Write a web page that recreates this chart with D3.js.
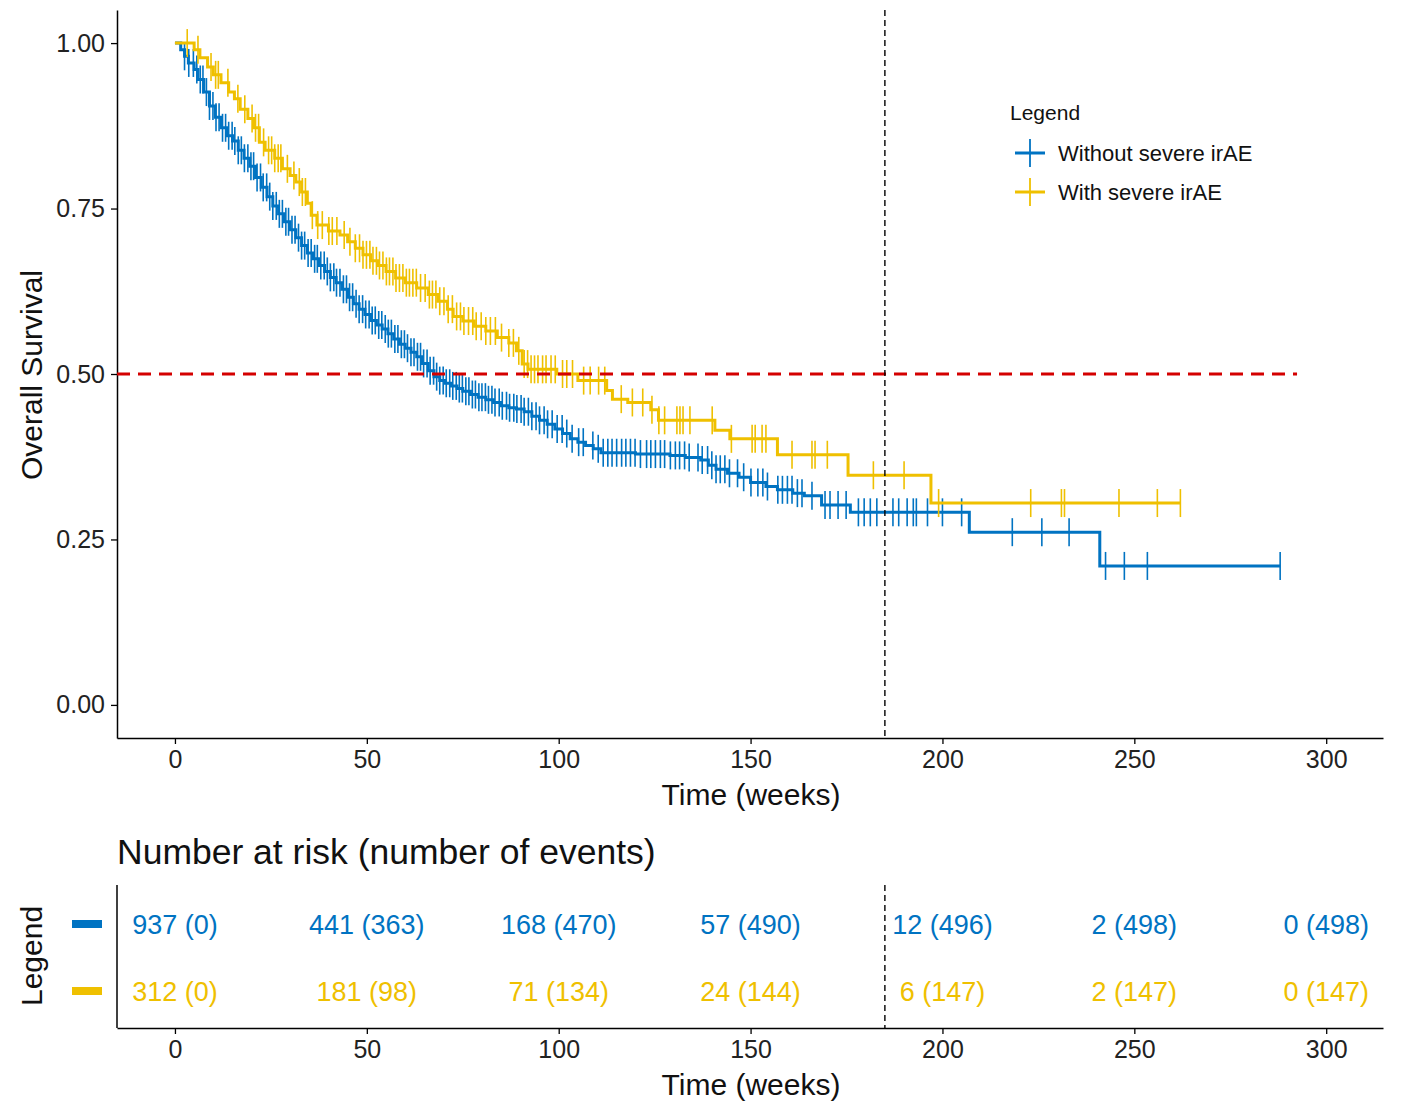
<!DOCTYPE html>
<html>
<head>
<meta charset="utf-8">
<script src="https://cdn.jsdelivr.net/npm/d3@7"></script>
<style>
  body { margin: 0; background: #fff; }
  text { font-family: "Liberation Sans", Arial, sans-serif; }
</style>
</head>
<body>
<script>
var groups = ['Without severe irAE', 'With severe irAE'];
var colors = ['#0073C2', '#EFC000'];

// step times (weeks) and survival after each step
var blueTime = [0,1.5,2.5,3.5,5,6,7.5,9,10.5,12,13.5,15,16.5,18,19.5,21,22.5,24,25.5,27,28.5,30,31.5,33,34.5,36,37.5,39,40.5,42,43.5,45,46.5,48,49.5,51,52.5,54,55.5,57,58.5,60,61.5,63,64.5,66,67.5,69,70.5,72,73.5,75,77,79,81,83,85,87,89,91,93,95,97,99,101,103,105,107,109,111,120,129,133,137,139,141,144,147,150,154,157,161,164,168.5,176,207,241];
var blueSurv = [1,0.99,0.98,0.97,0.96,0.945,0.926,0.905,0.888,0.872,0.86,0.852,0.838,0.826,0.814,0.797,0.782,0.768,0.754,0.742,0.73,0.718,0.706,0.694,0.683,0.674,0.664,0.655,0.646,0.638,0.628,0.616,0.606,0.598,0.59,0.581,0.574,0.568,0.561,0.553,0.545,0.539,0.533,0.526,0.516,0.505,0.496,0.49,0.486,0.482,0.478,0.474,0.469,0.465,0.461,0.457,0.452,0.449,0.447,0.443,0.436,0.43,0.424,0.417,0.41,0.402,0.397,0.392,0.387,0.381,0.379,0.377,0.374,0.37,0.362,0.356,0.35,0.344,0.336,0.33,0.325,0.32,0.316,0.302,0.291,0.261,0.21];
var blueEnd = 288;
var blueCensor = [2.5,3.6,4.8,5.7,6.6,7.3,8.2,9.0,9.9,10.7,11.5,12.4,13.2,14.0,14.9,15.6,16.5,17.3,18.1,19.0,19.8,20.5,21.4,22.3,23.0,23.9,24.7,25.5,26.4,27.2,28.0,28.9,29.6,30.5,31.3,32.2,33.0,33.8,34.7,35.5,36.4,37.1,38.0,38.9,39.7,40.5,41.4,42.1,43.0,43.9,44.7,45.5,46.3,47.2,48.0,48.9,49.7,50.6,51.4,52.2,53.1,53.9,54.8,55.6,56.4,57.3,58.1,59.0,59.8,60.6,61.5,62.3,63.2,64.0,64.8,65.7,66.5,67.4,68.2,69.0,69.9,70.7,71.6,72.4,73.3,74.1,74.9,75.8,76.6,77.5,78.3,79.2,80.0,80.9,81.7,82.6,83.4,84.5,85.3,86.4,87.2,88.3,89.1,90.2,91.0,92.1,93.0,94.1,95.0,96.2,97.1,98.3,99.6,100.9,102.1,103.5,105.2,106.4,108.9,110.3,111.6,112.8,113.9,115.1,116.4,117.5,118.7,119.9,121.3,122.9,124.0,125.2,126.5,127.6,129.1,130.4,131.5,132.8,134.0,136.3,137.4,138.8,139.9,141.0,142.1,143.3,144.5,146.6,148.2,150.1,151.9,153.2,154.4,157.1,158.3,159.6,160.8,162.2,163.4,166.0,169.4,170.7,172.8,174.9,178.1,179.6,181.2,182.9,187.1,188.6,190.8,192.4,193.2,196.1,200.0,205.0,218.2,225.9,233.0,242.5,247.4,253.4,288.0];

var yellowTime = [0,5,6.5,8.5,10,12,14,15.5,17,19,20.5,22,23.5,26,28,30,31.5,33,34.5,35.5,37,40,43,45,47,49,51,53,55,57.5,60,63,66,68.5,71,72.5,75,78,81,84,87,89,90.5,92,99.5,105,112.5,114,118,124,126,140.7,144.6,157,175.4,197];
var yellowSurv = [1,0.99,0.978,0.964,0.952,0.94,0.926,0.916,0.9,0.886,0.872,0.85,0.838,0.826,0.81,0.8,0.79,0.775,0.758,0.74,0.725,0.716,0.71,0.7,0.69,0.68,0.671,0.664,0.655,0.645,0.638,0.63,0.62,0.61,0.598,0.587,0.58,0.572,0.565,0.555,0.547,0.535,0.515,0.507,0.5,0.49,0.475,0.462,0.457,0.446,0.43,0.415,0.402,0.378,0.347,0.305];
var yellowEnd = 262;
var yellowCensor = [3.2,6.0,9.4,10.6,11.3,13.8,16.4,18.2,20.1,21.0,21.8,23.1,24.4,25.2,26.0,26.9,27.6,29.3,31.0,32.4,33.2,34.0,35.8,37.2,38.4,40.1,41.0,42.2,44.1,45.6,47.0,48.1,49.0,49.9,50.8,51.6,52.5,53.3,54.2,55.1,55.9,56.8,57.6,58.5,59.4,60.3,61.1,62.0,62.9,64.0,65.2,66.3,67.1,68.0,69.0,70.1,71.2,72.3,73.4,74.4,75.3,76.5,77.6,78.5,79.8,81.0,82.2,83.5,85.1,87.0,88.2,89.6,91.0,91.9,92.8,93.7,94.6,95.8,96.7,98.0,99.1,101.0,102.1,103.6,106.5,108.2,110.4,112.0,116.3,119.2,121.9,124.3,126.1,127.6,130.8,131.6,132.4,134.2,140.0,145.0,150.4,151.2,153.0,154.0,160.8,166.0,166.8,170.0,182.0,190.0,199.0,223.0,231.0,231.8,246.0,256.0,262.0];

var xTicks = [0, 50, 100, 150, 200, 250, 300];
var yTicks = [0, 0.25, 0.5, 0.75, 1];
var riskTimes = [0, 50, 100, 150, 200, 250, 300];
var riskBlue = [937, 441, 168, 57, 12, 2, 0];
var eventsBlue = [0, 363, 470, 490, 496, 498, 498];
var riskYellow = [312, 181, 71, 24, 6, 2, 0];
var eventsYellow = [0, 98, 134, 144, 147, 147, 147];
var medianSurv = 0.5;
var cutoffWeek = 185;

var W = 1405, H = 1103;
var svg = d3.select('body').append('svg')
  .attr('width', W)
  .attr('height', H);

var x = d3.scaleLinear().domain([-15.1, 314.8]).range([117, 1383]);
var y = d3.scaleLinear().domain([-0.05, 1.05]).range([738, 10]);

var series = [
  {name: groups[0], color: colors[0], time: blueTime, surv: blueSurv, end: blueEnd, censor: blueCensor},
  {name: groups[1], color: colors[1], time: yellowTime, surv: yellowSurv, end: yellowEnd, censor: yellowCensor}
];

function survAt(s, t) {
  var v = s.surv[0];
  for (var i = 0; i < s.time.length; i++) {
    if (s.time[i] <= t) v = s.surv[i];
  }
  return v;
}

/* ===== main panel axes ===== */

var yAxis = d3.axisLeft(y).tickValues(yTicks).tickFormat(d3.format('.2f'))
  .tickSize(6).tickSizeOuter(0).tickPadding(6);
var xAxis = d3.axisBottom(x).tickValues(xTicks).tickFormat(d3.format('d'))
  .tickSize(6).tickSizeOuter(0).tickPadding(6);

function styleAxis(g) {
  g.select('.domain').attr('stroke', '#000').attr('stroke-width', 1.5);
  g.selectAll('.tick line').attr('stroke', '#000').attr('stroke-width', 1.3);
  g.selectAll('.tick text').attr('fill', '#222').style('font-size', '25px')
    .style('font-family', '"Liberation Sans", Arial, sans-serif');
}

svg.append('g').attr('transform', 'translate(117,0)').call(yAxis).call(styleAxis);
svg.append('g').attr('transform', 'translate(0,738)').call(xAxis).call(styleAxis);

svg.append('text')
  .attr('transform', 'translate(42,375) rotate(-90)')
  .attr('text-anchor', 'middle')
  .style('font-size', '30px').attr('fill', '#111')
  .text('Overall Survival');

svg.append('text')
  .attr('x', 751).attr('y', 805)
  .attr('text-anchor', 'middle')
  .style('font-size', '30px').attr('fill', '#111')
  .text('Time (weeks)');

/* ===== curves ===== */

var line = d3.line()
  .x(function(d) { return x(d[0]); })
  .y(function(d) { return y(d[1]); })
  .curve(d3.curveStepAfter);

series.forEach(function(s) {
  var pts = s.time.map(function(t, i) { return [t, s.surv[i]]; });
  pts.push([s.end, s.surv[s.surv.length - 1]]);

  svg.append('path')
    .datum(pts)
    .attr('d', line)
    .attr('fill', 'none')
    .attr('stroke', s.color)
    .attr('stroke-width', 3);

  svg.append('g').selectAll('line')
    .data(s.censor)
    .enter()
    .append('line')
    .attr('x1', function(d) { return x(d); })
    .attr('x2', function(d) { return x(d); })
    .attr('y1', function(d) { return y(survAt(s, d)) - 14; })
    .attr('y2', function(d) { return y(survAt(s, d)) + 14; })
    .attr('stroke', s.color)
    .attr('stroke-width', 1.6);
});

/* ===== reference lines ===== */

svg.append('line')
  .attr('x1', 117).attr('x2', x(292.4))
  .attr('y1', y(medianSurv)).attr('y2', y(medianSurv))
  .attr('stroke', '#D40000').attr('stroke-width', 3)
  .attr('stroke-dasharray', '13,8');

svg.append('line')
  .attr('x1', x(cutoffWeek)).attr('x2', x(cutoffWeek))
  .attr('y1', 10).attr('y2', 738)
  .attr('stroke', '#000').attr('stroke-width', 1.4)
  .attr('stroke-dasharray', '6,4');

/* ===== legend ===== */

var legend = svg.append('g').attr('transform', 'translate(1010,0)');
legend.append('text')
  .attr('x', 0).attr('y', 120)
  .style('font-size', '21px').attr('fill', '#111')
  .text('Legend');

var items = legend.selectAll('g.item')
  .data(series)
  .enter()
  .append('g')
  .attr('class', 'item')
  .attr('transform', function(d, i) { return 'translate(0,' + (153 + i * 39) + ')'; });

items.append('line')
  .attr('x1', 5).attr('x2', 35).attr('y1', 0).attr('y2', 0)
  .attr('stroke', function(d) { return d.color; }).attr('stroke-width', 3);
items.append('line')
  .attr('x1', 20).attr('x2', 20).attr('y1', -14).attr('y2', 14)
  .attr('stroke', function(d) { return d.color; }).attr('stroke-width', 1.8);
items.append('text')
  .attr('x', 48).attr('y', 8)
  .style('font-size', '22px').attr('fill', '#111')
  .text(function(d) { return d.name; });

/* ===== risk table ===== */

svg.append('text')
  .attr('x', 117).attr('y', 864)
  .style('font-size', '35.5px').attr('fill', '#111')
  .text('Number at risk (number of events)');

var rowY = [924, 991];

var xAxis2 = d3.axisBottom(x).tickValues(xTicks).tickFormat(d3.format('d'))
  .tickSize(6).tickSizeOuter(0).tickPadding(6);
svg.append('g').attr('transform', 'translate(0,1028)').call(xAxis2).call(styleAxis);

svg.append('line')
  .attr('x1', 117).attr('x2', 117).attr('y1', 885).attr('y2', 1028)
  .attr('stroke', '#000').attr('stroke-width', 1.5);

svg.append('line')
  .attr('x1', x(cutoffWeek)).attr('x2', x(cutoffWeek))
  .attr('y1', 885).attr('y2', 1028)
  .attr('stroke', '#000').attr('stroke-width', 1.4)
  .attr('stroke-dasharray', '6,4');

var riskRows = [
  {color: colors[0], risk: riskBlue, events: eventsBlue},
  {color: colors[1], risk: riskYellow, events: eventsYellow}
];

riskRows.forEach(function(r, i) {
  svg.append('rect')
    .attr('x', 72).attr('y', rowY[i] - 4)
    .attr('width', 30).attr('height', 8)
    .attr('fill', r.color);

  svg.append('g').selectAll('text')
    .data(riskTimes)
    .enter()
    .append('text')
    .attr('x', function(d) { return x(d); })
    .attr('y', rowY[i] + 10)
    .attr('text-anchor', 'middle')
    .style('font-size', '27px')
    .attr('fill', r.color)
    .text(function(d, j) { return r.risk[j] + ' (' + r.events[j] + ')'; });
});

svg.append('text')
  .attr('transform', 'translate(42,956) rotate(-90)')
  .attr('text-anchor', 'middle')
  .style('font-size', '30px').attr('fill', '#111')
  .text('Legend');

svg.append('text')
  .attr('x', 751).attr('y', 1095)
  .attr('text-anchor', 'middle')
  .style('font-size', '30px').attr('fill', '#111')
  .text('Time (weeks)');
</script>
</body>
</html>
